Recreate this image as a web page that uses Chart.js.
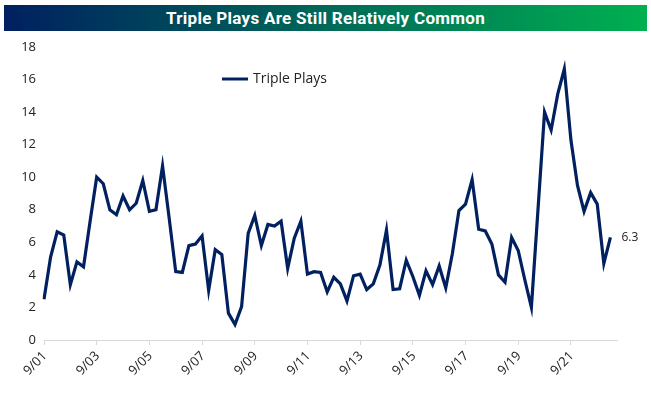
<!DOCTYPE html>
<html>
<head>
<meta charset="utf-8">
<script src="https://cdn.jsdelivr.net/npm/chart.js@4.4.1/dist/chart.umd.min.js"></script>
<style>
  html, body { margin: 0; padding: 0; background: #fff; }
  #wrap { position: relative; width: 651px; height: 393px; }
  #title {
    position: absolute; left: 4px; top: 5px; width: 643px; height: 26px;
    background: linear-gradient(to right, #002060, #00b050);
    color: #fff; font: bold 17px Roboto, "Open Sans", sans-serif;
    text-align: center; line-height: 26px; letter-spacing: 0.3px;
  }
  canvas { position: absolute; left: 0; top: 0; }
</style>
</head>
<body>
<div id="wrap">
  <canvas id="chart" width="651" height="393"></canvas>
  <div id="title">Triple Plays Are Still Relatively Common</div>
</div>
<script>
// quarterly dates, Sep 2001 .. Mar 2023
const quarters = [
  "9/01", "12/01",
  "3/02", "6/02", "9/02", "12/02",
  "3/03", "6/03", "9/03", "12/03",
  "3/04", "6/04", "9/04", "12/04",
  "3/05", "6/05", "9/05", "12/05",
  "3/06", "6/06", "9/06", "12/06",
  "3/07", "6/07", "9/07", "12/07",
  "3/08", "6/08", "9/08", "12/08",
  "3/09", "6/09", "9/09", "12/09",
  "3/10", "6/10", "9/10", "12/10",
  "3/11", "6/11", "9/11", "12/11",
  "3/12", "6/12", "9/12", "12/12",
  "3/13", "6/13", "9/13", "12/13",
  "3/14", "6/14", "9/14", "12/14",
  "3/15", "6/15", "9/15", "12/15",
  "3/16", "6/16", "9/16", "12/16",
  "3/17", "6/17", "9/17", "12/17",
  "3/18", "6/18", "9/18", "12/18",
  "3/19", "6/19", "9/19", "12/19",
  "3/20", "6/20", "9/20", "12/20",
  "3/21", "6/21", "9/21", "12/21",
  "3/22", "6/22", "9/22", "12/22",
  "3/23"
];

const triplePlays = [
  2.5, 5.1,
  6.65, 6.45, 3.4, 4.8,
  4.5, 7.3, 10.0, 9.6,
  8.0, 7.7, 8.85, 8.0,
  8.4, 9.8, 7.9, 8.0,
  10.7, 7.5, 4.2, 4.15,
  5.8, 5.9, 6.4, 3.05,
  5.55, 5.25, 1.65, 0.95,
  2.05, 6.55, 7.65, 5.8,
  7.1, 7.0, 7.3, 4.4,
  6.25, 7.3, 4.05, 4.2,
  4.15, 2.95, 3.85, 3.45,
  2.4, 3.95, 4.05, 3.1,
  3.45, 4.6, 6.75, 3.1,
  3.15, 4.9, 3.9, 2.75,
  4.25, 3.4, 4.55, 3.2,
  5.3, 7.95, 8.35, 9.85,
  6.8, 6.7, 5.9, 4.0,
  3.55, 6.3, 5.5, 3.7,
  2.0, 8.0, 14.0, 12.9,
  15.1, 16.65, 12.3, 9.5,
  7.9, 9.05, 8.35, 4.7,
  6.3
];

const yTicks = [0, 2, 4, 6, 8, 10, 12, 14, 16, 18];

// one empty slot so the axis runs a little past the last quarter
const labels = quarters.concat([""]);

Chart.defaults.font.family = "'Open Sans', 'Noto Sans', sans-serif";
Chart.defaults.color = "#222";

const extras = {
  id: "extras",
  afterDraw(chart) {
    const { ctx } = chart;
    const ds = chart.data.datasets[0];
    const meta = chart.getDatasetMeta(0);
    const last = meta.data[ds.data.length - 1];
    const xs = chart.scales.x;
    ctx.save();
    // legend
    ctx.strokeStyle = ds.borderColor;
    ctx.lineWidth = 3;
    ctx.beginPath();
    ctx.moveTo(222, 79);
    ctx.lineTo(248, 79);
    ctx.stroke();
    ctx.fillStyle = "#222";
    ctx.font = "14px 'Open Sans', sans-serif";
    ctx.textBaseline = "middle";
    ctx.fillText(ds.label, 253, 79);
    // last value
    ctx.font = "12px 'Open Sans', sans-serif";
    ctx.fillText(ds.data[ds.data.length - 1].toFixed(1), last.x + 11, last.y);
    // rotated x labels, every two years
    ctx.font = "13px 'Open Sans', sans-serif";
    ctx.textAlign = "right";
    chart.data.labels.forEach((lab, i) => {
      if (i % 8 !== 0 || !lab) return;
      const px = xs.getPixelForValue(i);
      ctx.save();
      ctx.translate(px + 1, xs.top + 14);
      ctx.rotate(-Math.PI / 4);
      ctx.fillText(lab, 0, 0);
      ctx.restore();
    });
    ctx.restore();
  }
};

new Chart(document.getElementById("chart"), {
  type: "line",
  data: {
    labels: labels,
    datasets: [
      {
        label: "Triple Plays",
        data: triplePlays,
        borderColor: "#002060",
        borderWidth: 3.2,
        pointRadius: 0,
        tension: 0,
        fill: false,
      },
    ],
  },
  options: {
    responsive: false,
    animation: false,
    layout: { padding: { left: 0, right: 34, top: 47, bottom: 0 } },
    plugins: {
      legend: { display: false },
      title: { display: false },
      tooltip: { enabled: false },
    },
    scales: {
      x: {
        afterFit: (scale) => { scale.height = 53; },
        grid: {
          drawOnChartArea: false,
          drawTicks: true,
          tickLength: 5,
          color: "#d9d9d9",
        },
        border: { display: true, color: "#d9d9d9" },
        ticks: {
          autoSkip: false,
          maxRotation: 0,
          color: "rgba(0,0,0,0)",
          font: { size: 12 },
          callback: function (value, index) {
            return index % 8 === 0 ? this.getLabelForValue(value) : null;
          },
        },
      },
      y: {
        min: 0,
        max: 18,
        afterFit: (scale) => { scale.width = 44; },
        afterBuildTicks: (scale) => {
          scale.ticks = yTicks.map((v) => ({ value: v }));
        },
        grid: { display: false, drawTicks: false },
        border: { display: false },
        ticks: { padding: 8, font: { size: 13 } },
      },
    },
  },
  plugins: [extras],
});
</script>
</body>
</html>
